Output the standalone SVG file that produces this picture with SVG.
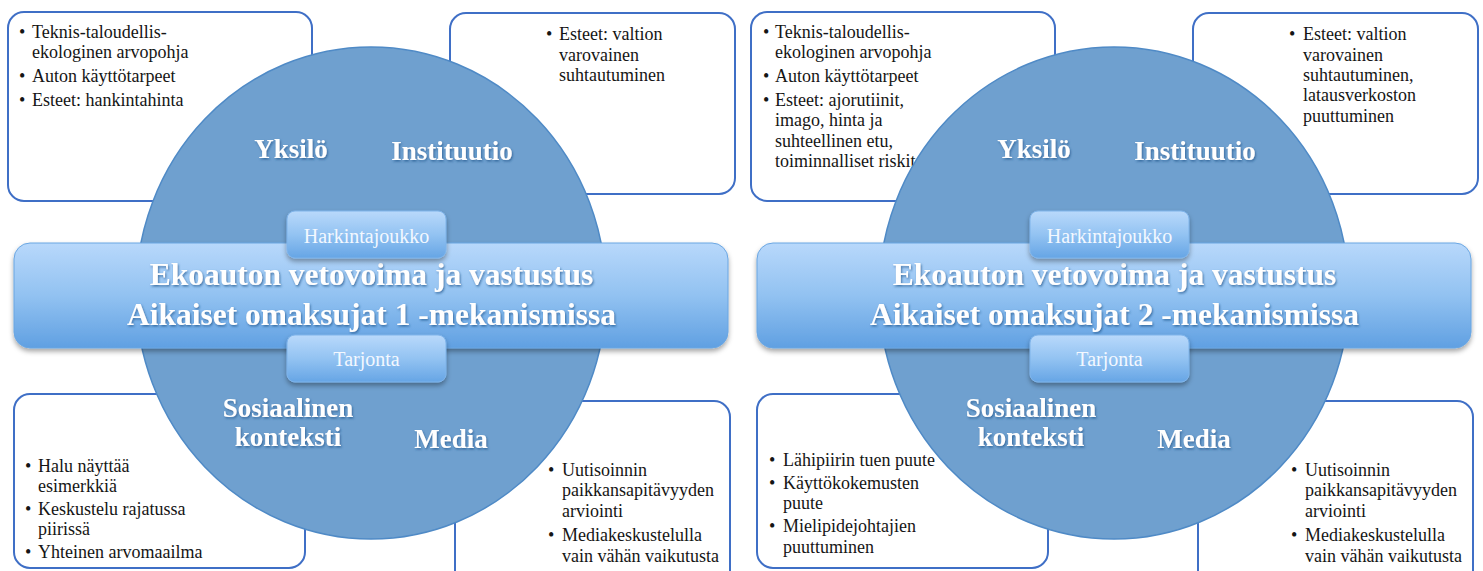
<svg xmlns="http://www.w3.org/2000/svg" width="1483" height="571" viewBox="0 0 1483 571">
<style>
.box{fill:#fff;stroke:#3f6fc6;stroke-width:2}
.body{font-family:"Liberation Serif","Times New Roman",serif;font-size:18px;fill:#151515}
.circ{fill:#6fa0cf;stroke:#4f8ac6;stroke-width:1.5}
.bar{fill:url(#gBar);stroke:#6aa6e2;stroke-width:1;filter:url(#sh)}
.sbox{fill:url(#gSmall);stroke:#7fb4ea;stroke-width:1;filter:url(#sh)}
.lbl{font-family:"Liberation Serif","Times New Roman",serif;font-weight:bold;font-size:27px;fill:#fff;text-anchor:middle;filter:url(#ts)}
.title{font-family:"Liberation Serif","Times New Roman",serif;font-weight:bold;font-size:31.5px;fill:#fff;text-anchor:middle;filter:url(#ts)}
.small{font-family:"Liberation Serif","Times New Roman",serif;font-size:20px;fill:#f3f8ff;text-anchor:middle}
</style>
<defs>
<linearGradient id="gBar" x1="0" y1="0" x2="0" y2="1">
<stop offset="0" stop-color="#b8d8fb"/>
<stop offset="0.5" stop-color="#92c2f1"/>
<stop offset="1" stop-color="#60a0e2"/>
</linearGradient>
<linearGradient id="gSmall" x1="0" y1="0" x2="0" y2="1">
<stop offset="0" stop-color="#b9d9fb"/>
<stop offset="0.5" stop-color="#93c3f2"/>
<stop offset="1" stop-color="#66a5e5"/>
</linearGradient>
<filter id="sh" x="-10%" y="-20%" width="120%" height="150%">
<feDropShadow dx="0" dy="3" stdDeviation="2.5" flood-color="#000" flood-opacity="0.35"/>
</filter>
<filter id="ts" x="-10%" y="-30%" width="120%" height="160%">
<feDropShadow dx="1" dy="1.5" stdDeviation="1" flood-color="#24578c" flood-opacity="0.75"/>
</filter>
</defs>

<g id="panel-1">
<g id="p1-yksilo-box">
<rect class="box" x="8" y="12" width="304" height="189" rx="16"/>
<text class="body" x="19" y="38">•</text><text class="body" x="32" y="38">Teknis-taloudellis-</text>
<text class="body" x="32" y="58">ekologinen arvopohja</text>
<text class="body" x="19" y="82">•</text><text class="body" x="32" y="82">Auton käyttötarpeet</text>
<text class="body" x="19" y="106">•</text><text class="body" x="32" y="106">Esteet: hankintahinta</text>
</g>
<g id="p1-instituutio-box">
<rect class="box" x="450" y="13" width="285" height="181" rx="16"/>
<text class="body" x="546" y="40">•</text><text class="body" x="559" y="40">Esteet: valtion</text>
<text class="body" x="559" y="61">varovainen</text>
<text class="body" x="559" y="81">suhtautuminen</text>
</g>
<g id="p1-sosiaalinen-box">
<rect class="box" x="14" y="394" width="291" height="174" rx="16"/>
<text class="body" x="25" y="472">•</text><text class="body" x="38" y="472">Halu näyttää</text>
<text class="body" x="38" y="492">esimerkkiä</text>
<text class="body" x="25" y="515">•</text><text class="body" x="38" y="515">Keskustelu rajatussa</text>
<text class="body" x="38" y="535">piirissä</text>
<text class="body" x="25" y="558">•</text><text class="body" x="38" y="558">Yhteinen arvomaailma</text>
</g>
<g id="p1-media-box">
<rect class="box" x="455" y="401" width="275" height="185" rx="16"/>
<text class="body" x="548" y="476">•</text><text class="body" x="562" y="476">Uutisoinnin</text>
<text class="body" x="562" y="496">paikkansapitävyyden</text>
<text class="body" x="562" y="517">arviointi</text>
<text class="body" x="548" y="541">•</text><text class="body" x="562" y="541">Mediakeskustelulla</text>
<text class="body" x="562" y="562">vain vähän vaikutusta</text>
</g>
<g id="p1-circle">
<ellipse class="circ" cx="371" cy="293" rx="235" ry="246"/>
<text class="lbl" x="291" y="158">Yksilö</text>
<text class="lbl" x="452" y="160">Instituutio</text>
<text class="lbl" x="288" y="417">Sosiaalinen</text>
<text class="lbl" x="288" y="446">konteksti</text>
<text class="lbl" x="451" y="448">Media</text>
</g>
<g id="p1-bar">
<rect class="bar" x="14" y="243" width="714" height="105" rx="16"/>
<text class="title" x="371.5" y="285">Ekoauton vetovoima ja vastustus</text>
<text class="title" x="371.5" y="325">Aikaiset omaksujat 1 -mekanismissa</text>
</g>
<g id="p1-harkintajoukko">
<rect class="sbox" x="287" y="211" width="159" height="47" rx="8"/>
<text class="small" x="366.5" y="243">Harkintajoukko</text>
</g>
<g id="p1-tarjonta">
<rect class="sbox" x="287" y="335" width="159" height="47" rx="8"/>
<text class="small" x="366.5" y="366">Tarjonta</text>
</g>
</g>

<g id="panel-2" transform="translate(743,0)">
<g id="p2-yksilo-box">
<rect class="box" x="8" y="12" width="304" height="189" rx="16"/>
<text class="body" x="20" y="38">•</text><text class="body" x="32" y="38">Teknis-taloudellis-</text>
<text class="body" x="32" y="58">ekologinen arvopohja</text>
<text class="body" x="20" y="82">•</text><text class="body" x="32" y="82">Auton käyttötarpeet</text>
<text class="body" x="20" y="106">•</text><text class="body" x="32" y="106">Esteet: ajorutiinit,</text>
<text class="body" x="32" y="126">imago, hinta ja</text>
<text class="body" x="32" y="147">suhteellinen etu,</text>
<text class="body" x="32" y="167">toiminnalliset riskit</text>
</g>
<g id="p2-instituutio-box">
<rect class="box" x="450" y="13" width="285" height="181" rx="16"/>
<text class="body" x="546" y="40">•</text><text class="body" x="560" y="40">Esteet: valtion</text>
<text class="body" x="560" y="61">varovainen</text>
<text class="body" x="560" y="81">suhtautuminen,</text>
<text class="body" x="560" y="101">latausverkoston</text>
<text class="body" x="560" y="122">puuttuminen</text>
</g>
<g id="p2-sosiaalinen-box">
<rect class="box" x="14" y="394" width="291" height="174" rx="16"/>
<text class="body" x="26" y="466">•</text><text class="body" x="40" y="466">Lähipiirin tuen puute</text>
<text class="body" x="26" y="489">•</text><text class="body" x="40" y="489">Käyttökokemusten</text>
<text class="body" x="40" y="509">puute</text>
<text class="body" x="26" y="532">•</text><text class="body" x="40" y="532">Mielipidejohtajien</text>
<text class="body" x="40" y="553">puuttuminen</text>
</g>
<g id="p2-media-box">
<rect class="box" x="455" y="401" width="275" height="185" rx="16"/>
<text class="body" x="548" y="476">•</text><text class="body" x="562" y="476">Uutisoinnin</text>
<text class="body" x="562" y="496">paikkansapitävyyden</text>
<text class="body" x="562" y="517">arviointi</text>
<text class="body" x="548" y="541">•</text><text class="body" x="562" y="541">Mediakeskustelulla</text>
<text class="body" x="562" y="562">vain vähän vaikutusta</text>
</g>
<g id="p2-circle">
<ellipse class="circ" cx="371" cy="293" rx="235" ry="246"/>
<text class="lbl" x="291" y="158">Yksilö</text>
<text class="lbl" x="452" y="160">Instituutio</text>
<text class="lbl" x="288" y="417">Sosiaalinen</text>
<text class="lbl" x="288" y="446">konteksti</text>
<text class="lbl" x="451" y="448">Media</text>
</g>
<g id="p2-bar">
<rect class="bar" x="14" y="243" width="714" height="105" rx="16"/>
<text class="title" x="371.5" y="285">Ekoauton vetovoima ja vastustus</text>
<text class="title" x="371.5" y="325">Aikaiset omaksujat 2 -mekanismissa</text>
</g>
<g id="p2-harkintajoukko">
<rect class="sbox" x="287" y="211" width="159" height="47" rx="8"/>
<text class="small" x="366.5" y="243">Harkintajoukko</text>
</g>
<g id="p2-tarjonta">
<rect class="sbox" x="287" y="335" width="159" height="47" rx="8"/>
<text class="small" x="366.5" y="366">Tarjonta</text>
</g>
</g>
</svg>
